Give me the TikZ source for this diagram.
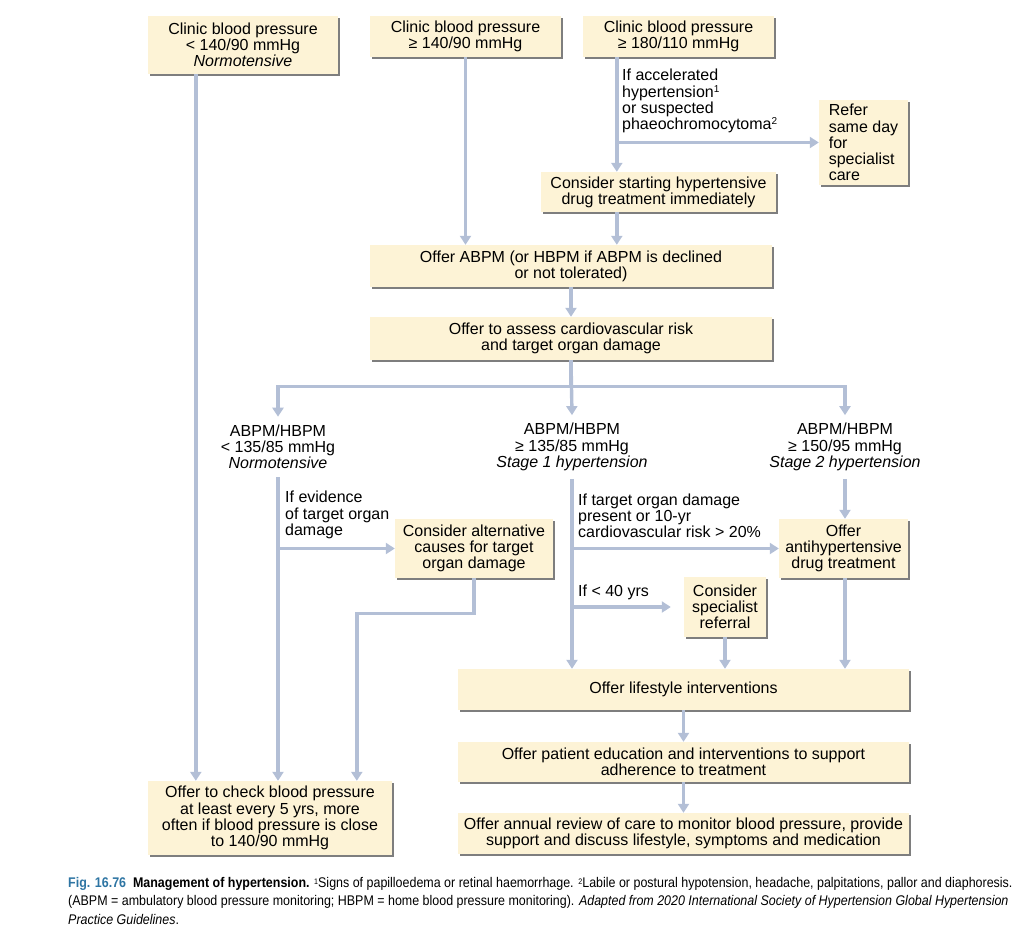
\documentclass[tikz,border=0pt]{standalone}
\usepackage{fontspec}
\setmainfont{Liberation Sans}
\newfontfamily\capfont[FakeStretch=0.89]{Liberation Sans}
\usetikzlibrary{arrows.meta,shadows,calc}
\definecolor{boxfill}{HTML}{FDF3D6}
\definecolor{arrowblue}{HTML}{B3BFD6}
\definecolor{shadowgray}{HTML}{7E7E7E}
\definecolor{capblue}{HTML}{2E75A3}
\newcommand{\mainsize}{\fontsize{16}{16.2}\selectfont}
\newcommand{\capsup}[1]{\raisebox{0.45ex}{\fontsize{8}{8}\selectfont #1}}
\newcommand{\notesup}[1]{\raisebox{0.55ex}{\fontsize{10}{10}\selectfont #1}}
\begin{document}
\begin{tikzpicture}[x=1pt,y=-1pt,
  box/.style={fill=boxfill, drop shadow={shadow xshift=1.8pt, shadow yshift=-1.8pt, fill=shadowgray, opacity=1},
    align=center, inner sep=0pt, font=\mainsize},
  wh/.style 2 args={minimum width=#1pt, minimum height=#2pt},
  lbl/.style={align=center, inner xsep=0pt, inner ysep=8pt, font=\mainsize},
  note/.style={align=left, inner sep=0pt, anchor=west, font=\mainsize},
  flow/.style={draw=arrowblue, line width=3.4pt, -{Triangle[length=9pt,width=11pt]}},
]
\useasboundingbox (0,0) rectangle (1033,948);

% boxes
\node[box, wh={190}{58}] (A) at (243,45) {Clinic blood pressure\\< 140/90 mmHg\\\textit{Normotensive}};
\node[box, wh={191}{41}] (B) at (465.5,36.5) {Clinic blood pressure\\≥ 140/90 mmHg};
\node[box, wh={191}{41}] (C) at (678.5,36.5) {Clinic blood pressure\\≥ 180/110 mmHg};
\node[box, wh={89}{85}, align=left] (Refer) at (863.5,142.5) {Refer\\same day\\for\\specialist\\care};
\node[box, wh={235}{40}] (CS) at (658.5,192) {Consider starting hypertensive\\drug treatment immediately};
\node[box, wh={402}{42}] (ABPM) at (571,266) {Offer ABPM (or HBPM if ABPM is declined\\or not tolerated)};
\node[box, wh={402}{43}] (Assess) at (571,338.5) {Offer to assess cardiovascular risk\\and target organ damage};
\node[box, wh={158}{59}] (Alt) at (474,548.5) {Consider alternative\\causes for target\\organ damage};
\node[box, wh={129}{59}] (AH) at (843.5,548.5) {Offer\\antihypertensive\\drug treatment};
\node[box, wh={82}{60}] (Spec) at (725,607) {Consider\\specialist\\referral};
\node[box, wh={451}{41}] (LS) at (683.5,689.5) {Offer lifestyle interventions};
\node[box, wh={451}{40}] (PE) at (683.5,762) {Offer patient education and interventions to support\\adherence to treatment};
\node[box, wh={451}{41}] (AN) at (683.5,833.5) {Offer annual review of care to monitor blood pressure, provide\\support and discuss lifestyle, symptoms and medication};
\node[box, wh={244}{74}] (BL) at (270,818) {Offer to check blood pressure\\at least every 5 yrs, more\\often if blood pressure is close\\to 140/90 mmHg};

% branch labels
\node[lbl] (L1) at (278,447) {ABPM/HBPM\\< 135/85 mmHg\\\textit{Normotensive}};
\node[lbl] (L2) at (572,447) {ABPM/HBPM\\≥ 135/85 mmHg\\\textit{Stage 1 hypertension}};
\node[lbl] (L3) at (845,447) {ABPM/HBPM\\≥ 150/95 mmHg\\\textit{Stage 2 hypertension}};

% condition notes
\node[note] (T1) at (622,101) {If accelerated\\hypertension\notesup{1}\\or suspected\\phaeochromocytoma\notesup{2}};
\node[note] (T2) at (285,515) {If evidence\\of target organ\\damage};
\node[note] (T3) at (578,516) {If target organ damage\\present or 10-yr\\cardiovascular risk > 20\%};
\node[note] (T4) at (578,592) {If < 40 yrs};

% connectors
\coordinate (ax) at ([xshift=48pt]A.south west);
\draw[flow] (ax) -- (ax |- BL.north);
\draw[flow] (B.south) -- (B.south |- ABPM.north);
\coordinate (cx) at ([xshift=34pt]C.south west);
\draw[flow] (cx) -- (cx |- CS.north);
\draw[flow] (cx |- Refer.west) -- (Refer.west);
\draw[flow] (cx |- CS.south) -- (cx |- ABPM.north);
\draw[flow] (ABPM.south) -- (Assess.north);
\draw[flow] (Assess.south) -- ++(0,26) -| (L1.north);
\draw[flow] (Assess.south) -- ++(0,26) -| (L3.north);
\draw[flow] (Assess.south) -- (L2.north);
\draw[flow] (L1.south) -- (L1.south |- BL.north);
\draw[flow] (L1.south |- Alt.west) -- (Alt.west);
\coordinate (bx) at ([xshift=209pt]BL.north west);
\draw[flow] (Alt.south) -- ++(0,35) -| (bx);
\draw[flow] (L2.south) -- (L2.south |- LS.north);
\draw[flow] (L2.south |- AH.west) -- (AH.west);
\draw[flow, shorten >=13pt] (L2.south |- Spec.west) -- (Spec.west);
\draw[flow] (L3.south) -- (L3.south |- AH.north);
\draw[flow] (AH.south -| L3.south) -- (L3.south |- LS.north);
\draw[flow] (Spec.south) -- (Spec.south |- LS.north);
\draw[flow] (LS.south) -- (PE.north);
\draw[flow] (PE.south) -- (AN.north);

% caption
\node[anchor=north west, align=left, inner sep=0pt, font=\capfont\fontsize{14}{18.5}\selectfont] (cap) at (68,877)
{\textcolor{capblue}{\textbf{Fig. 16.76}}\ \ \textbf{Management of hypertension.} \capsup{1}Signs of papilloedema or retinal haemorrhage. \capsup{2}Labile or postural hypotension, headache, palpitations, pallor and diaphoresis.\\
(ABPM = ambulatory blood pressure monitoring; HBPM = home blood pressure monitoring). \textit{Adapted from 2020 International Society of Hypertension Global Hypertension}\\
\textit{Practice Guidelines}.};
\end{tikzpicture}
\end{document}
